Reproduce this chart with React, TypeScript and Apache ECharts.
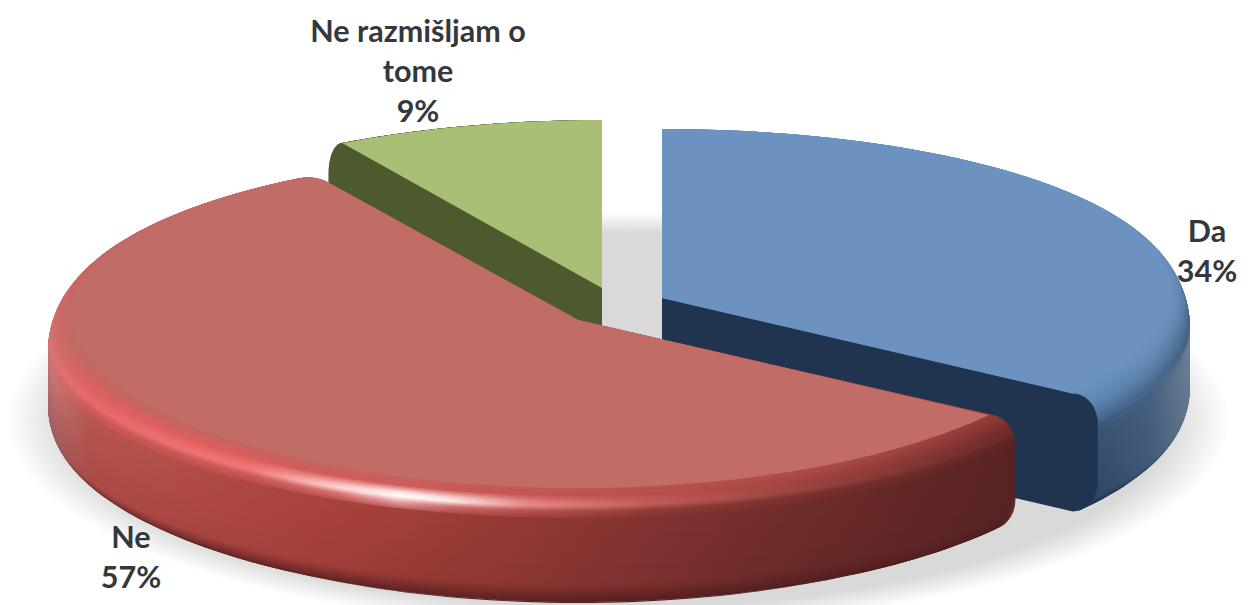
import React, { useEffect, useRef } from "react";
import * as echarts from "echarts";

const categories = ["Da", "Ne", "Ne razmišljam o tome"];
const percentValues = [34, 57, 9];
const labelLines = [["Da", "34%"], ["Ne", "57%"], ["Ne razmišljam o", "tome", "9%"]];

// layout of the exploded, tilted pie: one centre per slice
const centres = [
  { x: 662, y: 298, a: 528, b: 169, h: 118, w: 0 },
  { x: 578, y: 320, a: 530, b: 168, h: 115, w: 0.2 },
  { x: 602, y: 288, a: 540, b: 168, h: 100, w: 0.65 },
];
const faceColours = ["#6C93C0", "#C26C68", "#A9BF75"];
const cutColours = ["#20344F", "#5a2222", "#4C5A2E"];
const RIM = 0.073;
const labelPlaces = [
  { x: 1207, y: 230 },
  { x: 131, y: 536 },
  { x: 418, y: 30 },
];

const hex = (s: string) => [parseInt(s.slice(0, 2), 16), parseInt(s.slice(2, 4), 16), parseInt(s.slice(4, 6), 16)];
const mix = (p: string, q: string, u: number) => {
  const A = hex(p), B = hex(q);
  return `rgb(${A.map((v, i) => Math.round(v + (B[i] - v) * u)).join(",")})`;
};

type Ramp = { xs: number[]; keys: { d: number; c: string[] }[] };
const blueRamp: Ramp = {
  xs: [660, 1000, 1100, 1150, 1190],
  keys: [
    { d: 0, c: ["6a91be", "6a91be", "6a91be", "6a91be", "688eba"] },
    { d: 12, c: ["5c84b1", "5c84b1", "5c84b1", "5a80aa", "527399"] },
    { d: 24, c: ["4a6d98", "4a6d98", "4a6d98", "4a6890", "455f80"] },
    { d: 38, c: ["39526f", "39526f", "3a5472", "465f7e", "6d8095"] },
    { d: 104, c: ["2e4664", "2e4664", "2f4866", "415a78", "62768c"] },
    { d: 118, c: ["1f3049", "1f3049", "1f3049", "2a3d58", "3a4c63"] },
  ],
};
const redRamp: Ramp = {
  xs: [50, 90, 250, 330, 400, 450, 530, 650, 800, 1020],
  keys: [
    { d: 0, c: ["c26c68", "c26864", "c46462", "c66260", "c66260", "c45e5c", "c05a58", "b85452", "b04e4c", "8f3a38"] },
    { d: 8, c: ["cc6c6a", "dc6060", "dc5c5c", "d05a58", "cf5a58", "cc5856", "c45452", "b84e4c", "a54442", "7a302e"] },
    { d: 15, c: ["d47272", "e66868", "ee7272", "f8b0b0", "ffeaea", "f8d0d0", "e08080", "c05a58", "9a4340", "6a2a28"] },
    { d: 19, c: ["d87676", "e86868", "f07878", "ffd0d0", "ffffff", "fff0f0", "e88888", "c05a58", "9a4340", "6a2a28"] },
    { d: 24, c: ["d47070", "d05a58", "cc5856", "d87070", "f0a8a8", "d07070", "b85050", "8f3c38", "7a3230", "5e2424"] },
    { d: 34, c: ["c87878", "b85552", "ae4743", "a8423e", "a3403c", "9c3c38", "903834", "823230", "6f2c2b", "582222"] },
    { d: 98, c: ["9c5c5c", "ab4a48", "a54240", "a03e3a", "983a36", "923834", "8a3632", "7c302e", "672a29", "562222"] },
    { d: 115, c: ["6a3030", "5e2424", "5e2222", "5e2222", "5e2222", "5e2222", "5a2020", "561e1e", "521e1e", "4e1c1c"] },
  ],
};
const greenRamp: Ramp = { xs: [300, 610], keys: [{ d: 0, c: ["4C5A2E", "4C5A2E"] }, { d: 115, c: ["4C5A2E", "4C5A2E"] }] };
const ramps = [blueRamp, redRamp, greenRamp];

const rampFill = (r: Ramp, d: number) => {
  let i = 0;
  while (i < r.keys.length - 2 && d > r.keys[i + 1].d) i++;
  const K0 = r.keys[i], K1 = r.keys[i + 1];
  const u = Math.min(1, Math.max(0, (d - K0.d) / (K1.d - K0.d)));
  const x0 = r.xs[0], x1 = r.xs[r.xs.length - 1];
  return new echarts.graphic.LinearGradient(
    x0, 0, x1, 0,
    r.xs.map((x, j) => ({ offset: (x - x0) / (x1 - x0), color: mix(K0.c[j], K1.c[j], u) })),
    true
  );
};

// slight perspective correction of the projected angle
const warp = (t: number) => t - ((2.2 * Math.PI) / 180) * Math.sin(2 * t);

const depths = (h: number) => {
  const out: number[] = [0.05, 0.12, 0.25, 0.45, 0.7, 1, 1.5];
  for (let d = 2; d <= 30; d += 1.5) out.push(d);
  out.push(30);
  for (let d = 36; d < h - 30; d += 6) out.push(d);
  out.push(h - 30);
  for (let f = 0.08; f < 1; f += 0.08) out.push(h - 30 + 30 * f);
  out.push(h);
  return out;
};
const shrink = (d: number, h: number) => {
  if (d <= 30) {
    const th = Math.acos(1 - d / 30);
    return RIM * (1 - Math.sin(th));
  }
  if (d > h - 30) {
    const ph = Math.asin(Math.min(1, (d - (h - 30)) / 30));
    return RIM * (1 - Math.cos(ph));
  }
  return 0;
};

function renderSlice(params: any, api: any) {
  const i = params.dataIndex;
  const total = percentValues.reduce((s, v) => s + v, 0);
  const before = percentValues.slice(0, i).reduce((s, v) => s + v, 0);
  const value = api.value(0);
  const t0 = warp((before / total) * 2 * Math.PI);
  const t1 = warp(((before + value) / total) * 2 * Math.PI);
  const C = centres[i];
  const z2 = Math.round((1 - Math.cos((t0 + t1) / 2)) * 10);

  const pt = (t: number, d: number, k: number) => {
    const a = C.a * (1 - k * (C.w + ((1 - C.w) * (1 - Math.cos(t))) / 2));
    return [C.x + a * Math.sin(t), C.y + d - C.b * Math.cos(t)];
  };
  // a corner that points to the back of the pie is slightly rounded
  const roundsEnd = Math.cos(t1) > 0 && Math.sin(t1) < -0.01;
  const arc = (d: number, k: number) => {
    const n = Math.max(8, Math.ceil((t1 - t0) / 0.03));
    const pts: number[][] = [];
    const stop = roundsEnd ? t1 - 0.04 : t1;
    for (let j = 0; j <= n; j++) pts.push(pt(t0 + ((stop - t0) * j) / n, d, k));
    if (roundsEnd) {
      const P = pt(t1, d, k);
      const R = pts[pts.length - 1];
      const ax = C.x - P[0], ay = C.y + d - P[1];
      const len = Math.hypot(ax, ay);
      const Q = [P[0] + (ax / len) * 14, P[1] + (ay / len) * 14];
      for (let s = 1; s <= 6; s++) {
        const u = s / 6;
        pts.push([
          (1 - u) * (1 - u) * R[0] + 2 * u * (1 - u) * P[0] + u * u * Q[0],
          (1 - u) * (1 - u) * R[1] + 2 * u * (1 - u) * P[1] + u * u * Q[1],
        ]);
      }
    }
    return pts;
  };
  const poly = (points: number[][], fill: any) => ({
    type: "polygon",
    silent: true,
    z2,
    shape: { points },
    style: { fill },
  });

  const ds = depths(C.h);
  const children: any[] = [];
  // extruded rim, painted from the bottom layer up to the face
  for (let j = ds.length - 1; j >= 0; j--) {
    const d = ds[j];
    const upper = j > 0 ? ds[j - 1] : 0;
    const fill = rampFill(ramps[i], d);
    const low = arc(d, shrink(d, C.h));
    const up = arc(upper, shrink(upper, C.h));
    children.push(poly([...up, ...low.slice().reverse()], fill));
    children.push(poly([[C.x, C.y + upper], ...up], fill));
  }
  // the cut walls that face the viewer
  const cutWall = (t: number) => {
    const pts = [[C.x, C.y], pt(t, 0, RIM)];
    ds.forEach((d) => pts.push(pt(t, d, shrink(d, C.h))));
    pts.push([C.x, C.y + C.h]);
    children.push(poly(pts, cutColours[i]));
  };
  if (Math.cos(t1 + Math.PI / 2) < -0.01) cutWall(t1);
  if (Math.cos(t0 - Math.PI / 2) < -0.01) cutWall(t0);
  // flat top face
  children.push(poly([[C.x, C.y], ...arc(0, RIM)], faceColours[i]));
  return { type: "group", children };
}

const labelFont = { fontFamily: "Lato", fontWeight: "bold", fontSize: 30.5, fill: "#33383c" };

export default function App() {
  const ref = useRef<HTMLDivElement>(null);
  useEffect(() => {
    const chart = echarts.init(ref.current!, undefined, { renderer: "svg" });
    const texts: any[] = [];
    labelLines.forEach((lines, i) => {
      lines.forEach((line, j) => {
        texts.push({
          type: "text",
          z: 20,
          silent: true,
          x: labelPlaces[i].x,
          y: labelPlaces[i].y + j * 40,
          style: { ...labelFont, text: line, align: "center", verticalAlign: "middle" },
        });
      });
    });
    chart.setOption({
      animation: false,
      backgroundColor: "#ffffff",
      graphic: [
        {
          type: "ellipse",
          z: -1,
          silent: true,
          shape: { cx: 618, cy: 420, rx: 612, ry: 208 },
          style: {
            fill: new echarts.graphic.RadialGradient(0.5, 0.5, 0.5, [
              { offset: 0, color: "#d9d9d9" },
              { offset: 0.9, color: "#d9d9d9" },
              { offset: 1, color: "#ffffff" },
            ]),
          },
        },
        ...texts,
      ],
      series: [
        {
          type: "custom",
          name: "Odgovori",
          coordinateSystem: "none",
          clip: false,
          silent: true,
          data: percentValues.map((v, i) => ({ name: categories[i], value: v })),
          renderItem: renderSlice,
        },
      ],
    });
    return () => chart.dispose();
  }, []);
  return <div ref={ref} style={{ position: "fixed", left: 0, top: 0, width: 1254, height: 605 }} />;
}
